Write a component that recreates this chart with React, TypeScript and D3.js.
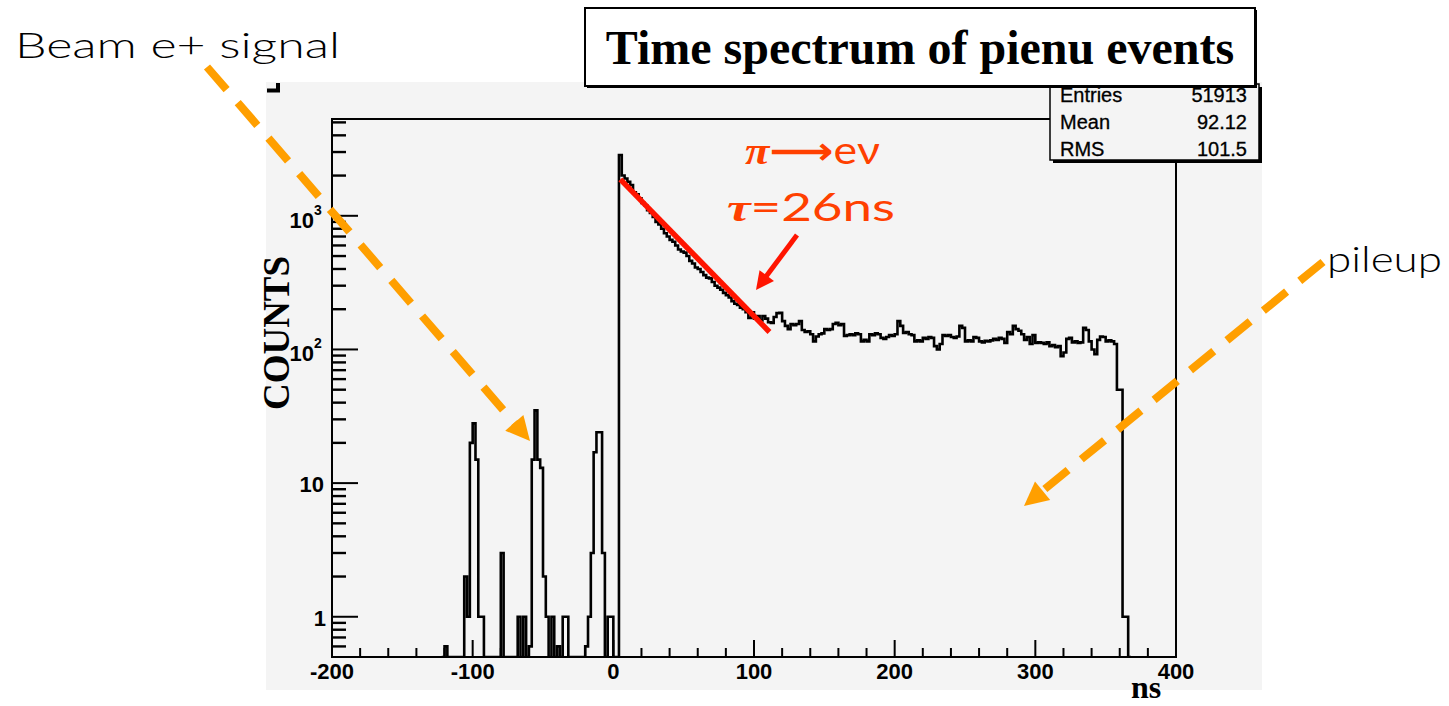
import React from 'react';
import * as d3 from 'd3';

// ---------------- DATA ----------------
const BIN_WIDTH = 2; // ns
// beam e+ region, bins starting at -122 ns (2 ns wide)
const beamStart = -122;
const beamCounts = [
  0, 0.6, 0, 0, 0, 0, 0, 0, 2, 1, 20, 28, 15, 1, 1, 0,
  0, 0, 0, 0, 0, 3, 0, 0, 0, 0, 0, 1, 0, 1, 0,
  0.6, 15, 35, 15, 13, 2, 1, 0, 1, 0, 0.6, 0, 1, 1, 0,
  0, 0, 0, 0, 0, 0.6, 1, 3, 17, 24, 24, 3, 0, 1, 1, 0, 0,
];
// pi -> e nu decay + pileup plateau, bins starting at 4 ns
const decayStart = 4;
const decayCounts = [
  2850, 2000, 1900, 1800, 1700, 1500, 1450, 1350, 1250, 1200, 1100, 1050, 980, 900, 860, 800,
  740, 700, 660, 640, 600, 560, 540, 530, 500, 460, 440, 410, 400, 380, 360, 345,
  340, 320, 300, 290, 280, 265, 255, 245, 230, 220, 215, 205, 200, 190, 172, 190,
  170, 178, 165, 178, 170, 160, 158, 175, 187,
  188, 163, 150, 142, 155, 152, 155, 163, 140, 135, 137, 130, 115, 125, 130, 132,
  142, 140, 142, 155, 158, 152, 155, 126, 128, 130, 128, 132, 130, 115, 118, 115,
  130, 128, 132, 130, 122, 120, 124, 128, 126, 130, 163, 150, 133, 135, 130, 128,
  115, 117, 115, 122, 120, 124, 122, 106, 100, 110, 128, 126, 128, 124, 122, 125,
  150, 145, 115, 117, 115, 124, 122, 115, 113, 116, 115, 117, 120, 118, 122, 120,
  112, 135, 130, 150, 142, 138, 130, 118, 124, 110, 128, 112, 113, 112, 110, 113,
  106, 108, 104, 106, 89, 95, 120, 122, 113, 115, 112, 113, 145, 140, 115, 100,
  92, 118, 125, 124, 115, 117, 115, 110, 50, 50, 1, 1, 0,
];
const xDomain = [-200, 400];
const yDomain = [0.5, 5300];
const xMajorTicks = [-200, -100, 0, 100, 200, 300, 400];
const yMajorTicks = [1, 10, 100, 1000];
const yTickExponent = [null, null, '2', '3'];
const statsLabels = ['Entries', 'Mean', 'RMS'];
const statsValues = ['51913', '92.12', '101.5'];
// exponential fit drawn by hand (tau = 26 ns annotation)
const fitTimes = [5, 111];
const fitCounts = [1874, 135];

// ---------------- LAYOUT ----------------
const W = 1449;
const H = 706;
const FR = { left: 332, right: 1176, top: 119, bottom: 657 };
const SANS = "'Liberation Sans', Arial, Helvetica, sans-serif";
const SERIF = "'Liberation Serif', 'Times New Roman', serif";
const HAND = "Lato, 'Open Sans', sans-serif";
const GREY = '#f4f4f4';
const ORANGE = '#ff9f00';
const RED = '#ff1400';
const REDTXT = '#ff4000';

function arrowHead(tip: [number, number], from: [number, number], len: number, half: number) {
  const dx = tip[0] - from[0];
  const dy = tip[1] - from[1];
  const L = Math.hypot(dx, dy);
  const ux = dx / L, uy = dy / L;
  const bx = tip[0] - ux * len, by = tip[1] - uy * len;
  const px = -uy, py = ux;
  return `M${tip[0]},${tip[1]}L${bx + px * half},${by + py * half}L${bx - px * half},${by - py * half}Z`;
}
function shorten(tip: [number, number], from: [number, number], by: number): [number, number] {
  const dx = tip[0] - from[0];
  const dy = tip[1] - from[1];
  const L = Math.hypot(dx, dy);
  return [tip[0] - (dx / L) * by, tip[1] - (dy / L) * by];
}

export default function App() {
  const x = d3.scaleLinear().domain(xDomain).range([FR.left, FR.right]);
  const y = d3.scaleLog().domain(yDomain).range([FR.bottom, FR.top]);
  const yv = (v: number) => (v > yDomain[0] ? y(v) : FR.bottom);

  // build bins
  const bins: { x0: number; v: number }[] = [];
  beamCounts.forEach((v, i) => bins.push({ x0: beamStart + i * BIN_WIDTH, v }));
  decayCounts.forEach((v, i) => bins.push({ x0: decayStart + i * BIN_WIDTH, v }));
  const pts: [number, number][] = [[x(bins[0].x0), FR.bottom]];
  bins.forEach((b) => pts.push([x(b.x0), yv(b.v)]));
  const last = bins[bins.length - 1];
  pts.push([x(last.x0 + BIN_WIDTH), FR.bottom]);
  const stepLine = d3.line().curve(d3.curveStepAfter);
  const histPath = stepLine(pts) || '';

  // ticks
  const xMinor = d3.range(xDomain[0], xDomain[1] + 1, 20).filter((v) => v % 100 !== 0);
  const yMinor: number[] = [];
  for (let e = -1; e <= 3; e++) {
    for (let m = 2; m <= 9; m++) {
      const v = m * Math.pow(10, e);
      if (v > yDomain[0] && v < yDomain[1]) yMinor.push(v);
    }
  }

  const fitPath = d3.line()(fitTimes.map((t, i) => [x(t), y(fitCounts[i])] as [number, number])) || '';

  // annotation arrows (pixel layout)
  const a1from: [number, number] = [207, 67];
  const a1tip: [number, number] = [530, 441];
  const a2from: [number, number] = [1323, 262];
  const a2tip: [number, number] = [1024, 506];
  const a3from: [number, number] = [797, 235];
  const a3tip: [number, number] = [756, 290];
  const a1end = shorten(a1tip, a1from, 16);
  const a2end = shorten(a2tip, a2from, 16);
  const a3end = shorten(a3tip, a3from, 12);

  return (
    <svg width={W} height={H} style={{ position: 'absolute', left: 0, top: 0, background: '#fff' }}>
      <defs>
        <clipPath id="frameClip">
          <rect x={FR.left} y={FR.top - 2} width={FR.right - FR.left} height={FR.bottom - FR.top + 2} />
        </clipPath>
      </defs>
      <rect x={0} y={0} width={W} height={H} fill="#fff" />
      {/* pad */}
      <rect x={266} y={82} width={996} height={608} fill={GREY} />
      <path d="M267,90.5H278V83" fill="none" stroke="#000" strokeWidth={4} />

      {/* histogram */}
      <path d={histPath} fill="none" stroke="#000" strokeWidth={2.6} clipPath="url(#frameClip)" />

      {/* frame */}
      <rect x={FR.left} y={FR.top} width={FR.right - FR.left} height={FR.bottom - FR.top} fill="none" stroke="#000" strokeWidth={2} />

      {/* x ticks */}
      {xMajorTicks.map((v) => (
        <line key={'xM' + v} x1={x(v)} x2={x(v)} y1={FR.bottom} y2={FR.bottom - 17} stroke="#000" strokeWidth={2} />
      ))}
      {xMinor.map((v) => (
        <line key={'xm' + v} x1={x(v)} x2={x(v)} y1={FR.bottom} y2={FR.bottom - 9} stroke="#000" strokeWidth={2} />
      ))}
      {xMajorTicks.map((v) => (
        <text key={'xl' + v} x={x(v)} y={679} textAnchor="middle" fontFamily={SANS} fontWeight="bold" fontSize={22}>
          {v}
        </text>
      ))}

      {/* y ticks */}
      {yMajorTicks.map((v) => (
        <line key={'yM' + v} x1={FR.left} x2={FR.left + 26} y1={y(v)} y2={y(v)} stroke="#000" strokeWidth={2} />
      ))}
      {yMinor.map((v) => (
        <line key={'ym' + v} x1={FR.left} x2={FR.left + 14} y1={y(v)} y2={y(v)} stroke="#000" strokeWidth={2.4} />
      ))}
      {yMajorTicks.map((v, i) =>
        yTickExponent[i] ? (
          <g key={'yl' + v}>
            <text x={314} y={y(v) + 12} textAnchor="end" fontFamily={SANS} fontWeight="bold" fontSize={22}>
              10
            </text>
            <text x={314} y={y(v) - 1} fontFamily={SANS} fontWeight="bold" fontSize={14}>
              {yTickExponent[i]}
            </text>
          </g>
        ) : (
          <text key={'yl' + v} x={v === 1 ? 326 : 324} y={y(v) + 9} textAnchor="end" fontFamily={SANS} fontWeight="bold" fontSize={22}>
            {v}
          </text>
        )
      )}

      {/* axis titles */}
      <text transform="translate(289,333) rotate(-90)" textAnchor="middle" fontFamily={SERIF} fontWeight="bold" fontSize={37}>
        COUNTS
      </text>
      <text x={1146} y={698} textAnchor="middle" fontFamily={SERIF} fontWeight="bold" fontSize={32}>
        ns
      </text>

      {/* fit line and red annotations */}
      <path d={fitPath} stroke={RED} strokeWidth={5.5} fill="none" />
      <line x1={a3from[0]} y1={a3from[1]} x2={a3end[0]} y2={a3end[1]} stroke={RED} strokeWidth={5} />
      <path d={arrowHead(a3tip, a3from, 18, 9)} fill={RED} />
      <text x={745} y={164} fontSize={38} fill={REDTXT} textLength={135} lengthAdjust="spacingAndGlyphs">
        <tspan fontFamily={SERIF} fontWeight="bold" fontStyle="italic">π</tspan>
        <tspan fontFamily="'DejaVu Sans', sans-serif" fontWeight="bold">⟶</tspan>
        <tspan fontFamily={HAND} fontWeight={400}>eν</tspan>
      </text>
      <text x={727} y={221} fontSize={38} fill={REDTXT} textLength={168} lengthAdjust="spacingAndGlyphs">
        <tspan fontFamily={SERIF} fontWeight="bold" fontStyle="italic">τ</tspan>
        <tspan fontFamily={HAND} fontWeight={400}>=26ns</tspan>
      </text>

      {/* stats box */}
      <rect x={1053} y={87} width={209} height={76} fill="#000" />
      <rect x={1050} y={84} width={209} height={76} fill={GREY} stroke="#000" strokeWidth={1.5} />
      {statsLabels.map((s, i) => (
        <g key={s}>
          <text x={1060} y={102 + i * 27} fontFamily={SANS} fontSize={20} stroke="#000" strokeWidth={0.3}>
            {s}
          </text>
          <text x={1247} y={102 + i * 27} textAnchor="end" fontFamily={SANS} fontSize={20} stroke="#000" strokeWidth={0.3}>
            {statsValues[i]}
          </text>
        </g>
      ))}

      {/* title box */}
      <rect x={587} y={10} width={670} height={78} fill="#000" />
      <rect x={585} y={8} width={670} height={78} fill="#fff" stroke="#000" strokeWidth={2} />
      <text x={920} y={64} textAnchor="middle" fontFamily={SERIF} fontWeight="bold" fontSize={48}>
        Time spectrum of pienu events
      </text>

      {/* orange dashed arrows */}
      <line x1={a1from[0]} y1={a1from[1]} x2={a1end[0]} y2={a1end[1]} stroke={ORANGE} strokeWidth={8} strokeDasharray="30 17" />
      <path d={arrowHead(a1tip, a1from, 24, 12)} fill={ORANGE} />
      <line x1={a2from[0]} y1={a2from[1]} x2={a2end[0]} y2={a2end[1]} stroke={ORANGE} strokeWidth={8} strokeDasharray="30 17" />
      <path d={arrowHead(a2tip, a2from, 24, 12)} fill={ORANGE} />

      {/* handwritten labels */}
      <text x={15} y={58} fontFamily={HAND} fontWeight={300} fontSize={36} textLength={325} lengthAdjust="spacingAndGlyphs">
        Beam e+ signal
      </text>
      <text x={1327} y={272} fontFamily={HAND} fontWeight={300} fontSize={36} textLength={115} lengthAdjust="spacingAndGlyphs">
        pileup
      </text>
    </svg>
  );
}
